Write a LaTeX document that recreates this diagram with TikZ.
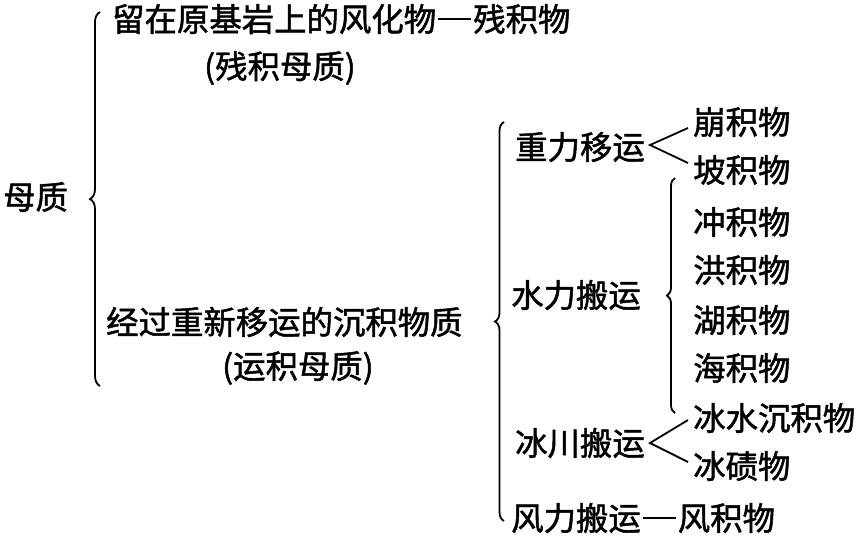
\documentclass[tikz,border=0pt]{standalone}
\usepackage{fontspec}
\setmainfont[FakeBold=1.5]{Noto Sans CJK SC}
\usetikzlibrary{decorations.pathreplacing}
\newcommand{\mydash}{\kern2pt\rule[0.36em]{33pt}{1.6pt}\kern2pt}
\begin{document}
\begin{tikzpicture}[x=1pt,y=-1pt,
  lbl/.style={anchor=west,inner sep=0pt,font=\fontsize{32.4}{36}\selectfont},
  brc/.style={decorate,decoration={brace,amplitude=#1},line width=1.8pt},
  ln/.style={line width=1.8pt}]
\useasboundingbox (0,0) rectangle (859,539);
% level 0
\node[lbl] (mz) at (3,197) {母质};
% level 1
\node[lbl] (cj) at (112,19) {留在原基岩上的风化物\mydash 残积物};
\node[lbl] (cjm) at (204,68) {(残积母质)};
\node[lbl] (yj) at (106,322) {经过重新移运的沉积物质};
\node[lbl] (yjm) at (222,368) {(运积母质)};
% level 2
\node[lbl] (zl) at (515,147) {重力移运};
\node[lbl] (sl) at (511,295) {水力搬运};
\node[lbl] (bc) at (515,443) {冰川搬运};
\node[lbl] (fl) at (511,518) {风力搬运\mydash 风积物};
% level 3
\node[lbl] (bj) at (693,122) {崩积物};
\node[lbl] (pj) at (693,170) {坡积物};
\node[lbl] (chj) at (693,222) {冲积物};
\node[lbl] (hj) at (693,270) {洪积物};
\node[lbl] (huj) at (693,320) {湖积物};
\node[lbl] (haj) at (693,368) {海积物};
\node[lbl] (bs) at (693,418) {冰水沉积物};
\node[lbl] (bq) at (693,466) {冰碛物};
% braces
\coordinate (b1t) at (100,12);
\coordinate (b1b) at (100,386);
\draw[brc=10pt] (b1b) -- (b1t);
\coordinate (b2t) at (504,122);
\coordinate (b2b) at (504,521);
\draw[brc=9pt] (b2b) -- (b2t);
\coordinate (b3t) at (675,178);
\coordinate (b3b) at (675,413);
\draw[brc=8pt] (b3b) -- (b3t);
% forks
\coordinate (g0) at (650,145);
\coordinate (g1) at (688,128);
\coordinate (g2) at (688,163);
\draw[ln] (g1) -- (g0) -- (g2);
\coordinate (i0) at (650,443);
\coordinate (i1) at (688,420);
\coordinate (i2) at (688,462);
\draw[ln] (i1) -- (i0) -- (i2);
\end{tikzpicture}
\end{document}
